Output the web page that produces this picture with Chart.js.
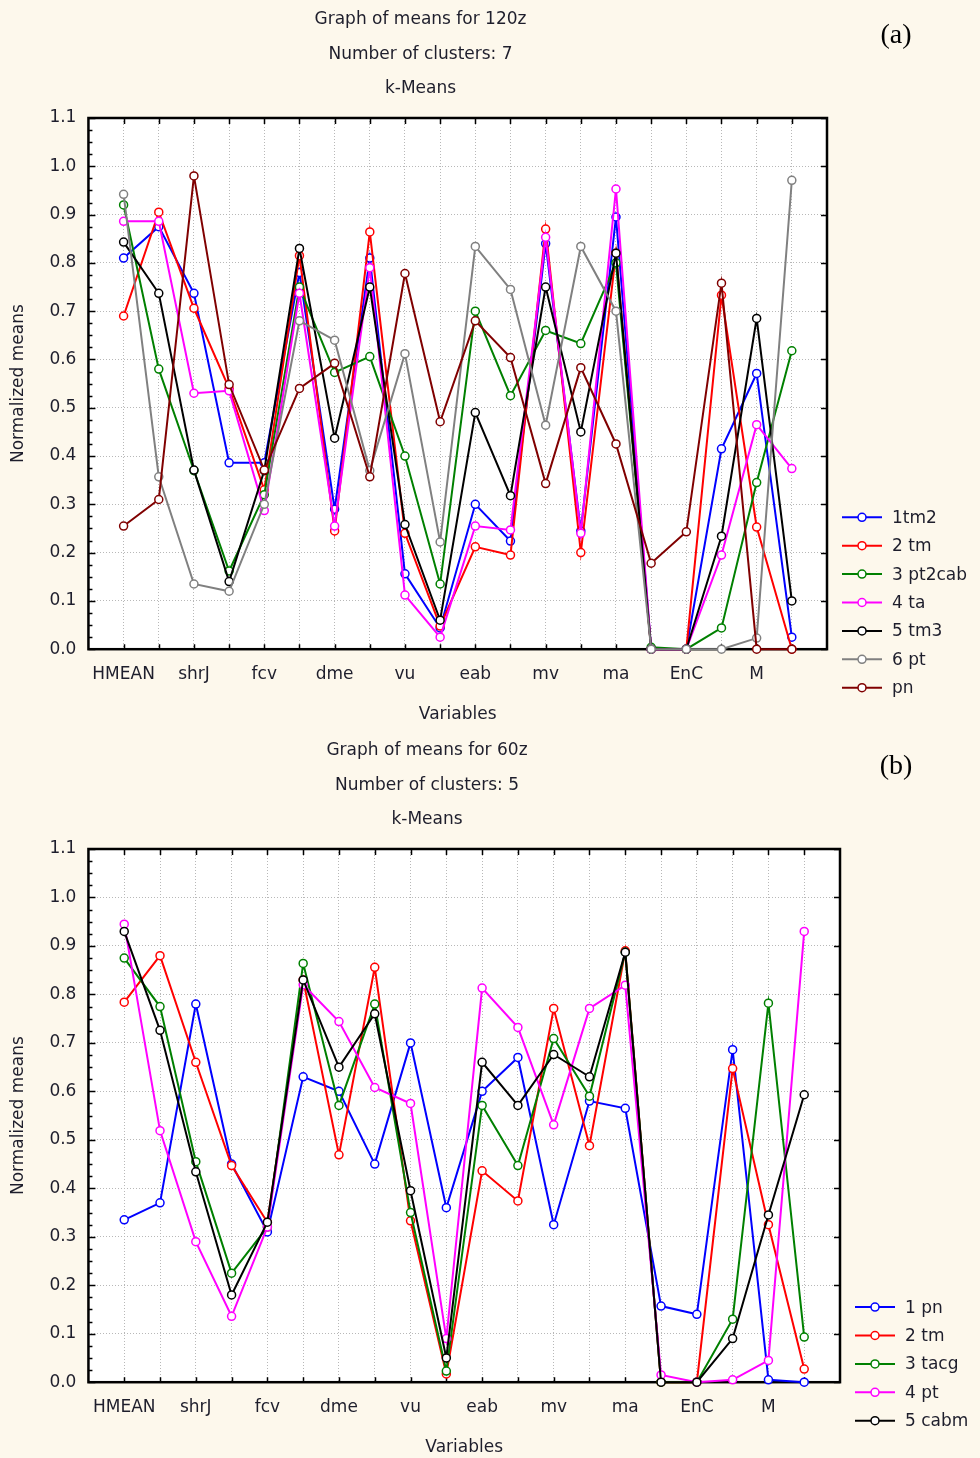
<!DOCTYPE html>
<html>
<head>
<meta charset="utf-8">
<title>Graph of means - k-Means</title>
<script src="https://cdn.jsdelivr.net/npm/chart.js@4.4.1/dist/chart.umd.min.js"></script>
<style>
    html, body { margin: 0; padding: 0; background: #fdf8ec; }
    .panel { position: absolute; left: 0; width: 980px; }
    #panelA { top: 0; height: 729px; }
    #panelB { top: 731px; height: 731px; }
</style>
</head>
<body>
<div class="panel" id="panelA"><canvas id="chartA"></canvas></div>
<div class="panel" id="panelB"><canvas id="chartB"></canvas></div>
<script>
// Variables on the x axis (every other one gets a label)
const variables = ['HMEAN', '', 'shrJ', '', 'fcv', '', 'dme', '', 'vu', '', 'eab', '', 'mv', '', 'ma', '', 'EnC', '', 'M', ''];

// y axis range / step
const yMax = 1.1;
const yStep = 0.1;

// 120z, 7 clusters
const namesA = ['1tm2', '2 tm', '3 pt2cab', '4 ta', '5 tm3', '6 pt', 'pn'];
const tm2A    = [0.81, 0.875, 0.737, 0.386, 0.386, 0.78, 0.29, 0.81, 0.156, 0.044, 0.30, 0.224, 0.84, 0.245, 0.895, 0, 0, 0.415, 0.571, 0.025];
const tmA     = [0.69, 0.905, 0.706, 0.54, 0.33, 0.815, 0.245, 0.864, 0.24, 0.048, 0.212, 0.195, 0.87, 0.20, 0.82, 0, 0, 0.733, 0.253, 0];
const pt2cabA = [0.92, 0.58, 0.37, 0.162, 0.32, 0.75, 0.573, 0.606, 0.40, 0.135, 0.70, 0.525, 0.66, 0.633, 0.80, 0.004, 0, 0.044, 0.345, 0.618];
const taA     = [0.886, 0.886, 0.53, 0.535, 0.287, 0.737, 0.255, 0.79, 0.112, 0.025, 0.255, 0.247, 0.853, 0.24, 0.953, 0, 0, 0.195, 0.465, 0.374];
const tm3A    = [0.843, 0.737, 0.371, 0.14, 0.37, 0.83, 0.437, 0.75, 0.258, 0.06, 0.49, 0.318, 0.75, 0.45, 0.82, 0, 0, 0.234, 0.685, 0.10];
const ptA     = [0.942, 0.357, 0.135, 0.12, 0.30, 0.68, 0.64, 0.37, 0.612, 0.222, 0.834, 0.745, 0.464, 0.834, 0.70, 0, 0, 0, 0.023, 0.971];
const pnA     = [0.255, 0.31, 0.98, 0.548, 0.371, 0.54, 0.592, 0.357, 0.778, 0.471, 0.68, 0.604, 0.343, 0.583, 0.425, 0.178, 0.243, 0.758, 0, 0];

// 60z, 5 clusters
const namesB = ['1 pn', '2 tm', '3 tacg', '4 pt', '5 cabm'];
const pnB   = [0.335, 0.37, 0.78, 0.45, 0.31, 0.63, 0.60, 0.45, 0.70, 0.36, 0.60, 0.67, 0.325, 0.58, 0.565, 0.157, 0.14, 0.686, 0.005, 0];
const tmB   = [0.784, 0.88, 0.66, 0.447, 0.33, 0.83, 0.469, 0.856, 0.333, 0.017, 0.436, 0.374, 0.771, 0.488, 0.89, 0, 0, 0.647, 0.325, 0.027];
const tacgB = [0.875, 0.775, 0.455, 0.225, 0.32, 0.864, 0.571, 0.78, 0.35, 0.023, 0.571, 0.447, 0.709, 0.59, 0.887, 0, 0, 0.13, 0.782, 0.093];
const ptB   = [0.945, 0.519, 0.29, 0.136, 0.32, 0.82, 0.744, 0.608, 0.575, 0.09, 0.813, 0.732, 0.531, 0.771, 0.819, 0.015, 0, 0.005, 0.045, 0.93];
const cabmB = [0.93, 0.726, 0.434, 0.18, 0.33, 0.83, 0.65, 0.76, 0.395, 0.05, 0.66, 0.571, 0.676, 0.63, 0.887, 0, 0, 0.09, 0.345, 0.593];

const textColor = '#1e1e2c';
Chart.defaults.font.family = '"DejaVu Sans", sans-serif';
Chart.defaults.font.size = 16;
Chart.defaults.color = textColor;

// white plot area, inward tick marks and the black frame
const plotFrame = {
    id: 'plotFrame',
    beforeDraw(chart) {
        const { ctx, chartArea: a } = chart;
        ctx.save();
        ctx.fillStyle = '#ffffff';
        ctx.fillRect(a.left, a.top, a.right - a.left, a.bottom - a.top);
        ctx.restore();
    },
    beforeDatasetsDraw(chart) {
        const { ctx, chartArea: a, scales: { x, y } } = chart;
        ctx.save();
        ctx.strokeStyle = '#000000';
        ctx.lineWidth = 1.5;
        ctx.beginPath();
        for (let i = 1; i <= variables.length; i++) {
            const px = Math.round(x.getPixelForValue(i)) + 0.5;
            ctx.moveTo(px, a.top); ctx.lineTo(px, a.top + 6);
            ctx.moveTo(px, a.bottom); ctx.lineTo(px, a.bottom - 5);
        }
        const steps = Math.round(yMax / yStep) * 4;
        for (let k = 0; k <= steps; k++) {
            const py = Math.round(y.getPixelForValue(k * yStep / 4)) + 0.5;
            const major = k % 4 === 0;
            ctx.moveTo(a.left, py); ctx.lineTo(a.left + (major ? 7 : 4), py);
            if (major) { ctx.moveTo(a.right, py); ctx.lineTo(a.right - 6, py); }
        }
        ctx.stroke();
        ctx.lineWidth = 2.5;
        ctx.strokeRect(a.left, a.top, a.right - a.left, a.bottom - a.top);
        ctx.restore();
    }
};

// three heading lines, the panel tag and the cluster key at the right
const headings = {
    id: 'headings',
    afterDraw(chart, args, opts) {
        const { ctx, chartArea: a } = chart;
        ctx.save();
        ctx.fillStyle = textColor;
        ctx.textBaseline = 'middle';
        ctx.textAlign = 'center';
        ctx.font = '17px "DejaVu Sans"';
        const cx = (a.right + 14) / 2;
        opts.lines.forEach((t, i) => ctx.fillText(t, cx, a.top - 98 + i * 34.5));

        ctx.fillStyle = '#000000';
        ctx.font = '28px "Liberation Serif"';
        ctx.fillText(opts.tag, chart.width - 84, a.top - 82);

        const sets = chart.data.datasets;
        ctx.textAlign = 'left';
        ctx.font = '17px "DejaVu Sans"';
        sets.forEach((ds, i) => {
            const yy = a.bottom + 38.5 - (sets.length - 1 - i) * 28.4;
            ctx.strokeStyle = ds.borderColor;
            ctx.lineWidth = 2;
            ctx.beginPath();
            ctx.moveTo(a.right + 15, yy); ctx.lineTo(a.right + 55, yy);
            ctx.stroke();
            ctx.beginPath();
            ctx.arc(a.right + 35, yy, 4, 0, Math.PI * 2);
            ctx.fillStyle = '#ffffff';
            ctx.fill();
            ctx.lineWidth = 1.5;
            ctx.stroke();
            ctx.fillStyle = textColor;
            ctx.fillText(ds.label, a.right + 65, yy + 1);
        });
        ctx.restore();
    }
};

function series(label, values, color, i, n) {
    return {
        label: label,
        data: values.map((v, k) => ({ x: k + 1, y: v })),
        borderColor: color,
        backgroundColor: '#ffffff',
        borderWidth: 2,
        pointRadius: 4,
        pointBorderWidth: 1.5,
        pointBackgroundColor: '#ffffff',
        pointBorderColor: color,
        tension: 0,
        clip: false,
        order: n - i
    };
}

function makeChart(id, names, rows, colors, lines, tag, rightPad) {
    return new Chart(document.getElementById(id), {
        type: 'line',
        data: {
            datasets: rows.map((r, i) => series(names[i], r, colors[i], i, rows.length))
        },
        options: {
            responsive: true,
            maintainAspectRatio: false,
            animation: false,
            events: [],
            layout: { padding: { top: 118, right: rightPad, bottom: 0, left: 0 } },
            plugins: {
                legend: { display: false },
                tooltip: { enabled: false },
                headings: { lines: lines, tag: tag }
            },
            scales: {
                x: {
                    type: 'linear',
                    min: 0,
                    max: variables.length + 1,
                    grid: { color: '#b8b8b8', lineWidth: 1, drawTicks: false },
                    border: { display: false, dash: [1, 2] },
                    ticks: {
                        stepSize: 1,
                        autoSkip: false,
                        maxRotation: 0,
                        padding: 15,
                        font: { size: 17 },
                        callback: (v) => variables[v - 1] || ''
                    },
                    title: {
                        display: true,
                        text: 'Variables',
                        font: { size: 17 },
                        padding: { top: 5, bottom: 4 }
                    }
                },
                y: {
                    min: 0,
                    max: yMax,
                    grid: { color: '#b8b8b8', lineWidth: 1, drawTicks: false },
                    border: { display: false, dash: [1, 2] },
                    ticks: {
                        stepSize: yStep,
                        padding: 12,
                        font: { size: 17 },
                        callback: (v) => v.toFixed(1)
                    },
                    title: {
                        display: true,
                        text: 'Normalized means',
                        font: { size: 17 },
                        padding: { top: 8, bottom: 9 }
                    }
                }
            }
        },
        plugins: [plotFrame, headings]
    });
}

makeChart('chartA', namesA, [tm2A, tmA, pt2cabA, taA, tm3A, ptA, pnA],
    ['#0000ff', '#ff0000', '#008000', '#ff00ff', '#000000', '#808080', '#800000'],
    ['Graph of means for 120z', 'Number of clusters: 7', 'k-Means'], '(a)', 153);

makeChart('chartB', namesB, [pnB, tmB, tacgB, ptB, cabmB],
    ['#0000ff', '#ff0000', '#008000', '#ff00ff', '#000000'],
    ['Graph of means for 60z', 'Number of clusters: 5', 'k-Means'], '(b)', 140);
</script>
</body>
</html>
